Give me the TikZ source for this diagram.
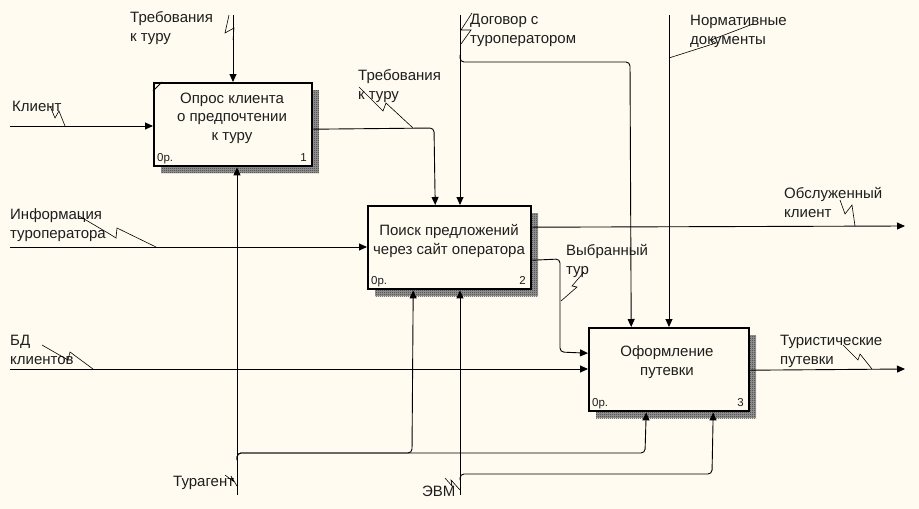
\documentclass[tikz,border=0pt]{standalone}
\usepackage{fontspec}
\setmainfont{Liberation Sans}
\usetikzlibrary{arrows.meta,patterns,calc}
\definecolor{bg}{RGB}{255,251,240}
\definecolor{txt}{RGB}{30,30,30}
\pgfdeclarepatternformonly{finecheck}{\pgfqpoint{0pt}{0pt}}{\pgfqpoint{2pt}{2pt}}{\pgfqpoint{2pt}{2pt}}{%
  \pgfpathrectangle{\pgfqpoint{0pt}{0pt}}{\pgfqpoint{1pt}{1pt}}%
  \pgfpathrectangle{\pgfqpoint{1pt}{1pt}}{\pgfqpoint{1pt}{1pt}}%
  \pgfusepath{fill}}
\begin{document}
\begin{tikzpicture}[x=1pt,y=-1pt,
  fbox/.style={draw=black, line width=2.4pt, fill=bg, anchor=north west, inner sep=0pt},
  shadbase/.style={fill=black!40},
  shad/.style={pattern=finecheck, pattern color=black!80},
  arr/.style={line width=0.9pt, -{Triangle[length=8pt,width=7pt]}, rounded corners=4pt},
  lead/.style={line width=0.6pt},
  lbl/.style={font=\fontsize{15}{19}\selectfont, text=txt, align=left, inner sep=0pt, anchor=base west},
  btxt/.style={font=\fontsize{15}{18.5}\selectfont, text=txt, align=center, inner sep=0pt, anchor=base},
  num/.style={font=\fontsize{11.5}{13}\selectfont, text=txt, inner sep=0pt}]
\fill[bg] (0,0) rectangle (919,509);
\useasboundingbox (0,0) rectangle (919,509);

% shadows
\fill[shadbase] (161,90) rectangle (319,173);
\fill[shadbase] (375,213) rectangle (538,296);
\fill[shadbase] (596,335) rectangle (756,418);
\fill[shad] (161,90) rectangle (319,173);
\fill[shad] (375,213) rectangle (538,296);
\fill[shad] (596,335) rectangle (756,418);

% boxes
\node[fbox, minimum width=158pt, minimum height=83pt] (b1) at (153,82) {};
\node[fbox, minimum width=163pt, minimum height=83pt] (b2) at (367,205) {};
\node[fbox, minimum width=160pt, minimum height=83pt] (b3) at (588,327) {};
\draw[line width=1pt] ($(b1.north west)+(0,9)$) -- ($(b1.north west)+(9,0)$);

\node[btxt] (t1) at (232,140) {Опрос клиента\\о предпочтении\\к туру};
\node[btxt] (t2) at (449,254) {Поиск предложений\\через сайт оператора};
\node[btxt] (t3) at (667,375) {Оформление\\путевки};

\node[num, anchor=base west] (n1a) at (157,161) {0р.};
\node[num, anchor=base east] (n1b) at (307,161) {1};
\node[num, anchor=base west] (n2a) at (371,284) {0р.};
\node[num, anchor=base east] (n2b) at (526,284) {2};
\node[num, anchor=base west] (n3a) at (592,406) {0р.};
\node[num, anchor=base east] (n3b) at (744,406) {3};

% free ends
\coordinate (kl) at (10,126);
\coordinate (treb) at (233,15);
\coordinate (dog) at (460,15);
\coordinate (norm) at (669,15);
\coordinate (inf) at (10,247);
\coordinate (bd) at (10,369);
\coordinate (obs) at (905,226);
\coordinate (tur) at (905,369);
\coordinate (ag) at (237,495);
\coordinate (evm) at (460,495);

% connectors
\draw[arr] (kl) -- (kl -| b1.west);
\draw[arr] (treb) -- (treb |- b1.north);
\draw[arr] ($(b1.east)+(0,4.5)$) -- (434,128) -- ($(b2.north)+(-14.5,0)$);
\draw[arr] (dog) -- (dog |- b2.north);
\draw[arr] (460,55) -- (460,62) -- (630,62) -- ($(b3.north)+(-38,0)$);
\draw[arr] (norm) -- (norm |- b3.north);
\draw[arr] (inf) -- (inf -| b2.west);
\draw[arr] ($(b2.east)+(0,-20.5)$) -- (obs);
\draw[arr] ($(b2.east)+(0,12.5)$) -- (560,259) -- (560,352) -- ($(b3.west)+(0,-16.5)$);
\draw[arr] (bd) -- (bd -| b3.west);
\draw[arr] ($(b3.east)+(0,0.5)$) -- (tur);
\draw[arr] (ag) -- (ag |- b1.south);
\draw[arr] (237,460) -- (237,453) -- (412,453) -- ($(b2.south)+(-36.5,0)$);
\draw[arr] (237,460) -- (237,453) -- (645,453) -- ($(b3.south)+(-23,0)$);
\draw[arr] (evm) -- (evm |- b2.south);
\draw[arr] (460,480) -- (460,474) -- (712,474) -- ($(b3.south)+(44,0)$);

% labels (anchored at baseline of last line)
\node[lbl] (l1) at (12,111) {Клиент};
\node[lbl] (l2) at (130,41) {Требования\\к туру};
\node[lbl] (l3) at (358,99) {Требования\\к туру};
\node[lbl] (l4) at (470,43) {Договор с\\туроператором};
\node[lbl] (l5) at (690,44) {Нормативные\\документы};
\node[lbl] (l6) at (10,238) {Информация\\туроператора};
\node[lbl] (l7) at (784,217) {Обслуженный\\клиент};
\node[lbl] (l8) at (566,274) {Выбранный\\тур};
\node[lbl] (l9) at (10,364) {БД\\клиентов};
\node[lbl] (l10) at (780,364) {Туристические\\путевки};
\node[lbl] (l11) at (173,486) {Турагент};
\node[lbl] (l12) at (422,496) {ЭВМ};

% leaders
\draw[lead] (50,106) -- (55,118) -- (59,111) -- (65,126);
\draw[lead] (229,15) -- (225,33) -- (234,28) -- (233,40);
\draw[lead] (359,87) -- (383,111) -- (386,103) -- (413,128);
\draw[lead] (472,13) -- (461,30) -- (471,30) -- (461,44);
\draw[lead] (669,58) -- (716,43) -- (711,40) -- (753,24);
\draw[lead] (79,216) -- (108,233) -- (116,238) -- (117,228) -- (156,247);
\draw[lead] (42,345) -- (68,360) -- (70,352) -- (93,369);
\draw[lead] (840,200) -- (845,214) -- (852,205) -- (855,226);
\draw[lead] (584,272) -- (572,286) -- (577,287) -- (561,301);
\draw[lead] (843,345) -- (858,360) -- (860,354) -- (872,369);
\draw[lead] (225,475) -- (233,481) -- (231,476) -- (237,486);
\draw[lead] (445,478) -- (452,486) -- (451,480) -- (460,490);
\end{tikzpicture}
\end{document}
